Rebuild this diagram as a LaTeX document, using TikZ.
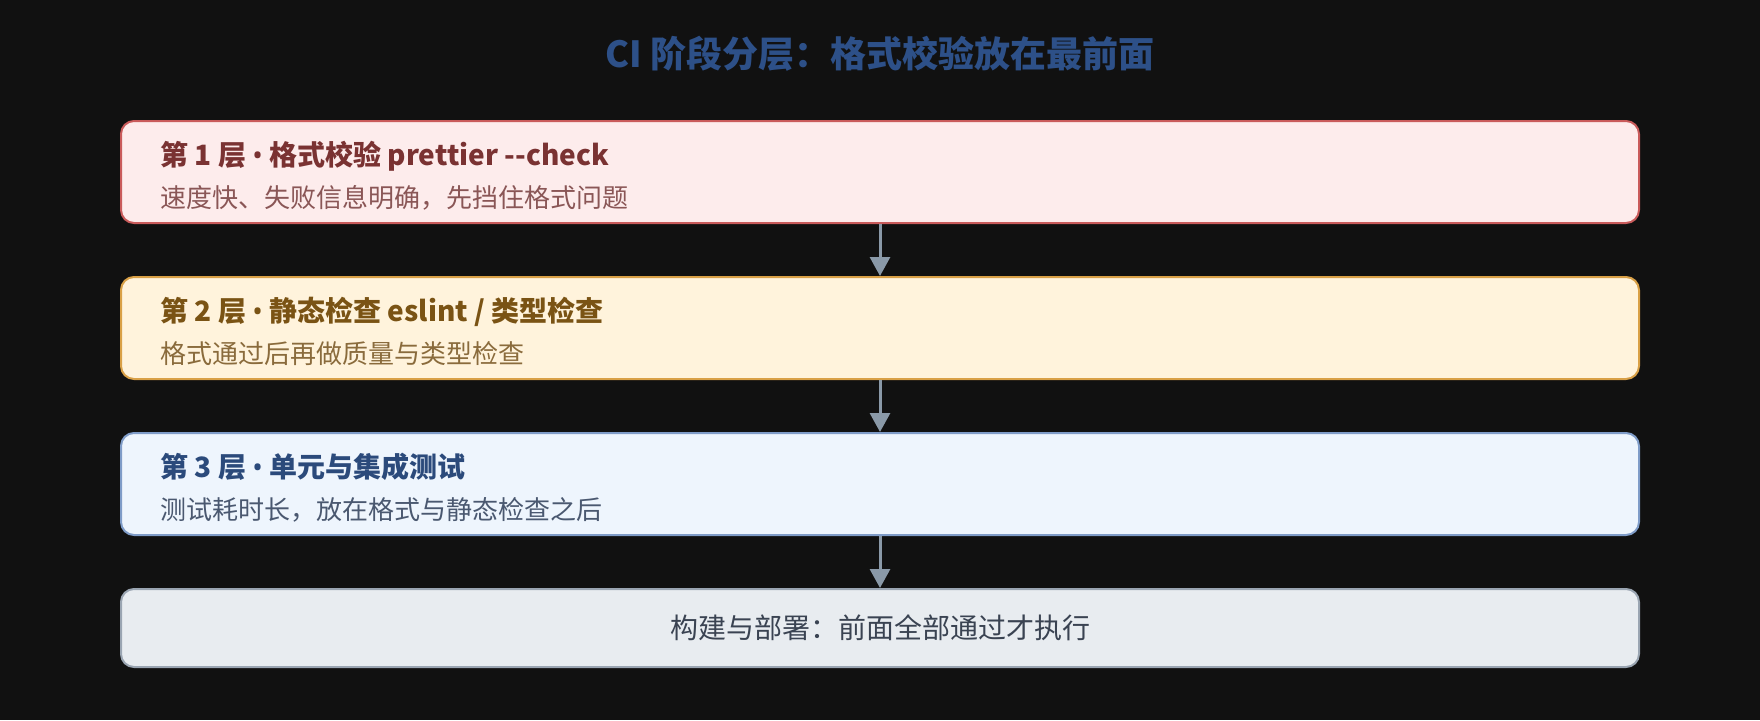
\documentclass[tikz,border=0pt]{standalone}
\usepackage{fontspec}
\setmainfont{Noto Sans CJK SC}
\newfontfamily\bulletfont{Noto Sans}
\newcommand{\mybullet}{{\bulletfont •}}
\usetikzlibrary{arrows.meta}
\definecolor{bg}{HTML}{111111}
\definecolor{maintitle}{HTML}{2D5088}
\definecolor{fillA}{HTML}{FDECEC}\definecolor{drawA}{HTML}{C95B5B}
\definecolor{headA}{HTML}{7A3232}\definecolor{subA}{HTML}{8A5656}
\definecolor{fillB}{HTML}{FFF3DC}\definecolor{drawB}{HTML}{D9A046}
\definecolor{headB}{HTML}{7A5314}\definecolor{subB}{HTML}{8A6B3C}
\definecolor{fillC}{HTML}{EEF5FD}\definecolor{drawC}{HTML}{7F9CC8}
\definecolor{headC}{HTML}{2B4A7B}\definecolor{subC}{HTML}{4A5870}
\definecolor{fillD}{HTML}{E8ECF0}\definecolor{drawD}{HTML}{9AA5B2}
\definecolor{textD}{HTML}{3A4352}
\definecolor{arrowc}{HTML}{8A99A8}
\tikzset{
  layerbox/.style={draw, line width=2pt, rounded corners=13pt, minimum width=1518pt, inner sep=0pt},
  headtext/.style={anchor=base west, inner sep=0pt, font=\fontsize{28}{32}\selectfont\bfseries},
  subtext/.style={anchor=base west, inner sep=0pt, font=\fontsize{26}{30}\selectfont},
  flowarrow/.style={draw=arrowc, line width=3pt, -{Triangle[width=20pt,length=19pt]}}
}
\begin{document}
\begin{tikzpicture}[x=1pt,y=-1pt]
\fill[bg] (0,0) rectangle (1760,720);
\useasboundingbox (0,0) rectangle (1760,720);
\node[anchor=base, inner sep=0pt, text=maintitle, font=\fontsize{36}{40}\selectfont\bfseries] (title) at (880,67) {CI 阶段分层：格式校验放在最前面};

\node[layerbox, fill=fillA, draw=drawA, minimum height=102pt] (b1) at (880,172) {};
\node[headtext, text=headA] (h1) at (160,165) {第 1 层 \mybullet{} 格式校验 prettier -{}-check};
\node[subtext, text=subA] (s1) at (160,207) {速度快、失败信息明确，先挡住格式问题};

\node[layerbox, fill=fillB, draw=drawB, minimum height=102pt] (b2) at (880,328) {};
\node[headtext, text=headB] (h2) at (160,321) {第 2 层 \mybullet{} 静态检查 eslint / 类型检查};
\node[subtext, text=subB] (s2) at (160,363) {格式通过后再做质量与类型检查};

\node[layerbox, fill=fillC, draw=drawC, minimum height=102pt] (b3) at (880,484) {};
\node[headtext, text=headC] (h3) at (160,477) {第 3 层 \mybullet{} 单元与集成测试};
\node[subtext, text=subC] (s3) at (160,519) {测试耗时长，放在格式与静态检查之后};

\node[layerbox, fill=fillD, draw=drawD, minimum height=78pt] (b4) at (880,628) {};
\node[inner sep=0pt, text=textD, font=\fontsize{28}{32}\selectfont] (t4) at (880,628) {构建与部署：前面全部通过才执行};

\draw[flowarrow] (b1.south) -- (b2.north);
\draw[flowarrow] (b2.south) -- (b3.north);
\draw[flowarrow] (b3.south) -- (b4.north);
\end{tikzpicture}
\end{document}
